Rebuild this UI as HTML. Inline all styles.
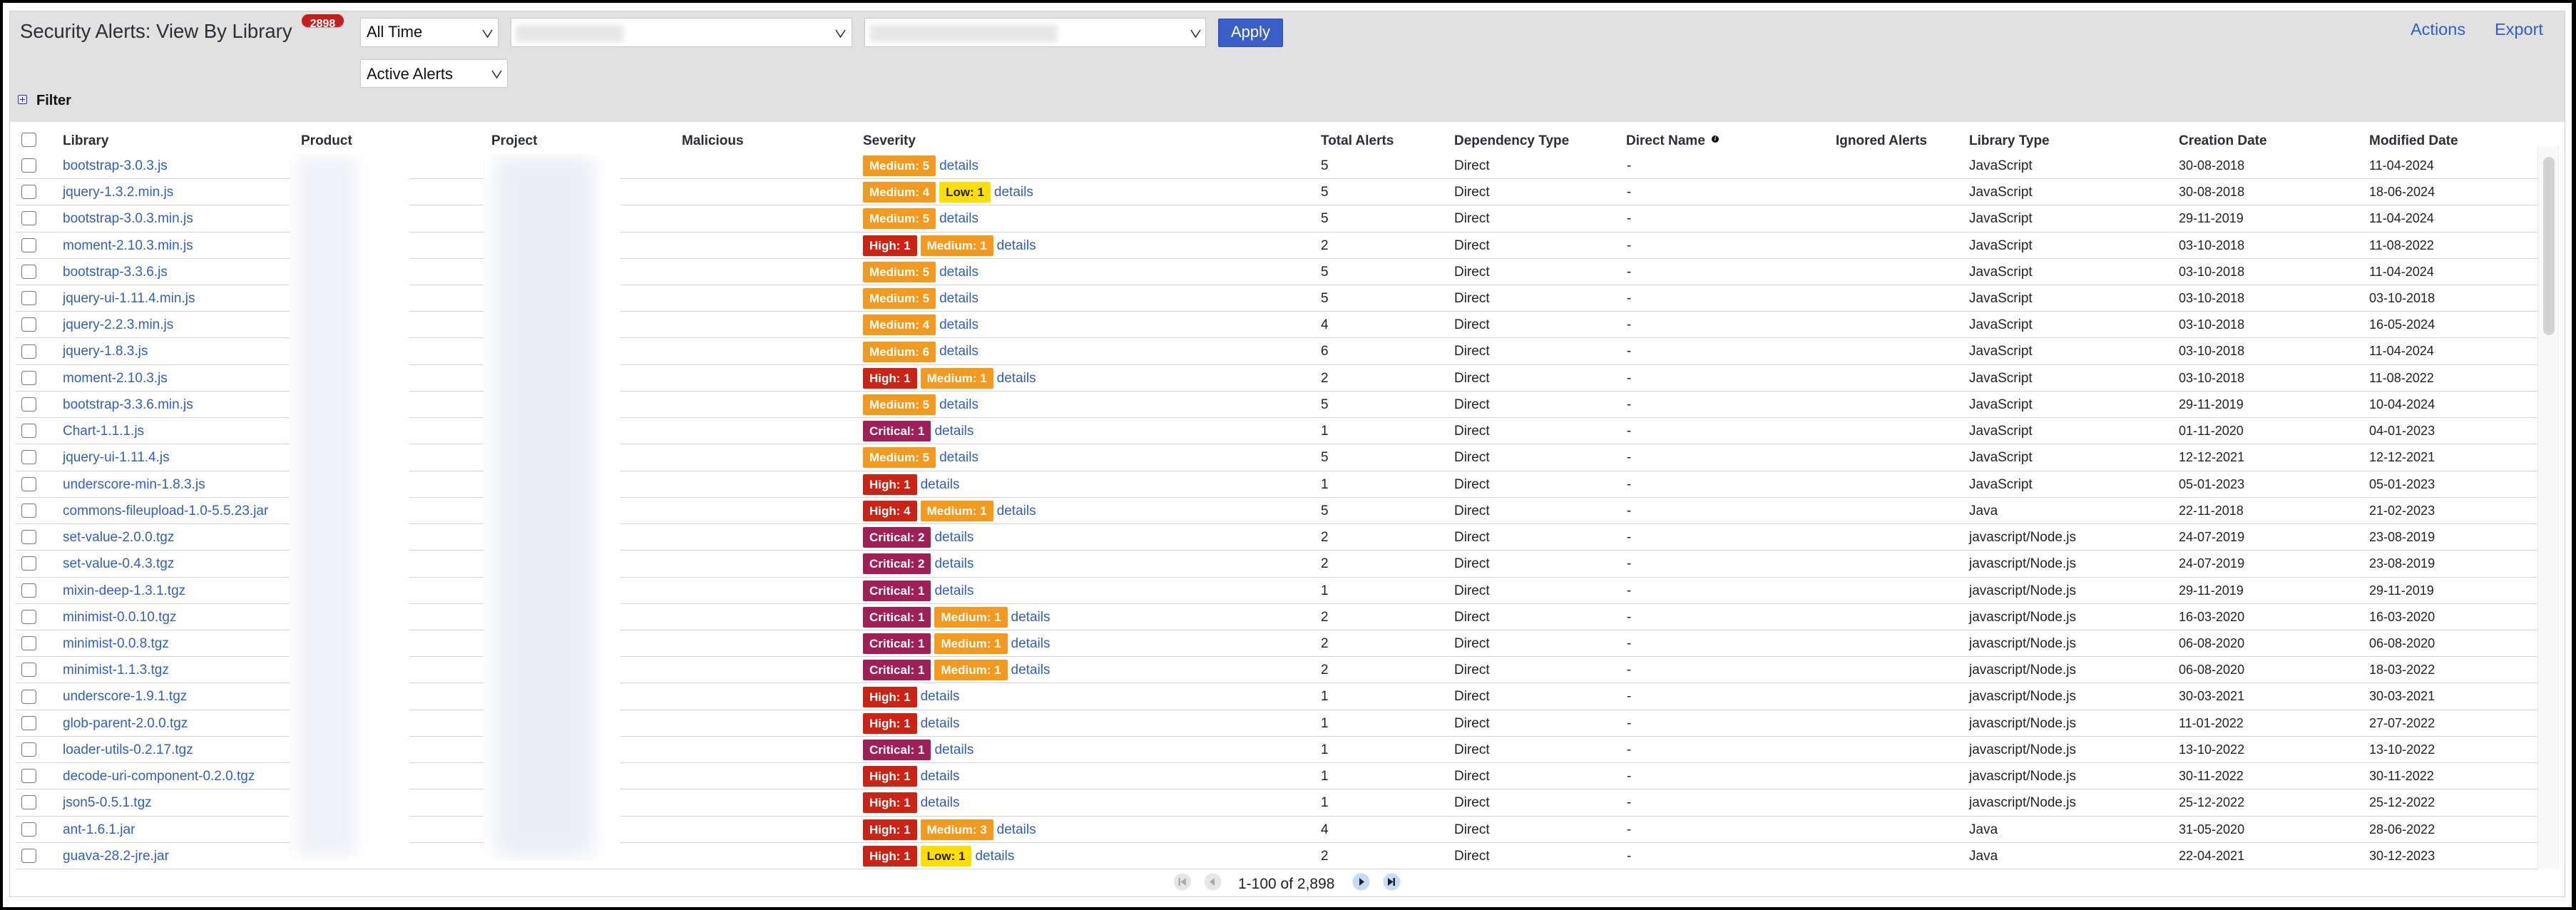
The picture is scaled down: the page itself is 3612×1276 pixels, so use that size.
<!DOCTYPE html>
<html>
<head>
<meta charset="utf-8">
<style>
*{margin:0;padding:0;box-sizing:border-box}
html,body{width:3612px;height:1276px;overflow:hidden;background:#000}
body{font-family:"Liberation Sans",Arial,sans-serif;color:#222}
#pg{position:absolute;left:0;top:0;width:3612px;height:1276px;background:#000}
#wh{position:absolute;left:4px;top:4px;width:3602px;height:1268px;background:#fff}
#box{position:absolute;left:13px;top:15px;width:3584px;height:1243px;border:1px solid #cfcfcf;background:#fff}
#hdr{position:absolute;left:14px;top:16px;width:3582px;height:155px;background:#e1e1e1}
.a{position:absolute;white-space:nowrap}
.sel{position:absolute;background:#fff;border:1px solid #c9c9c9}
.blurph{position:absolute;background:#e6e6e6;filter:blur(4px)}
.hl{position:absolute;top:183px;line-height:30px;font-size:19px;font-weight:bold;color:#2b2e35;white-space:nowrap}
.cb{position:absolute;width:21px;height:20px;border:1.5px solid #777;border-radius:4px;background:#fff}
.r{position:absolute;left:22px;width:3536px;height:37.23px;border-bottom:1px solid #d3d3d3}
.r .cb{left:8px;top:8.2px}
.r .l,.r .t,.r .p,.r .n,.r .y,.r .cd,.r .md{position:absolute;top:0;line-height:37px;font-size:19px;white-space:nowrap}
.r .l{left:66px;color:#2f5ec6}
.r .t{left:1830px}
.r .p{left:2017px}
.r .n{left:2259px}
.r .y{left:2739px}
.r .cd{left:3033px;font-size:18px}
.r .md{left:3300px;font-size:18px}
.r .s{position:absolute;left:1188px;top:0;display:flex;gap:5px;white-space:nowrap}
.b{margin-top:4.2px;height:29px;line-height:29px;padding:0 9px;border-radius:2px;font-size:17px;font-weight:bold;color:#fff}
.M{background:#f39a1e}
.H{background:#cc2314}
.C{background:#a01f57}
.L{background:#ffde00;color:#222}
.d{line-height:37px;font-size:19px;color:#2f5ec6}
.wb{position:absolute;top:216px;height:991px;background:#fff;overflow:hidden}
.core{position:absolute;filter:blur(12px)}
</style>
</head>
<body>
<div id="pg">
<div id="wh"></div>
<div id="box"></div>
<div id="hdr"></div>

<!-- title -->
<div class="a" style="left:28px;top:23.5px;line-height:40px;font-size:27.5px;color:#2c2f36">Security Alerts: View By Library</div>
<div class="a" style="left:423px;top:20px;width:59px;height:18px;border-radius:9px;background:#c4201a;box-shadow:0 1px 1px rgba(0,0,0,0.25)"></div>
<div class="a" style="left:423px;top:22px;width:59px;text-align:center;line-height:24px;font-size:16px;font-weight:bold;color:#fff">2898</div>

<!-- selects -->
<div class="sel" style="left:505px;top:25px;width:194px;height:41px"></div>
<div class="a" style="left:514px;top:30.4px;line-height:30px;font-size:22px;color:#111">All Time</div>
<div class="sel" style="left:716px;top:25px;width:479px;height:41px"></div>
<div class="blurph" style="left:723px;top:35px;width:151px;height:24px"></div>
<div class="sel" style="left:1212px;top:25px;width:479px;height:41px"></div>
<div class="blurph" style="left:1220px;top:35px;width:262px;height:24px"></div>
<div class="sel" style="left:505px;top:83px;width:207px;height:40px"></div>
<div class="a" style="left:514px;top:89.4px;line-height:30px;font-size:22px;color:#111">Active Alerts</div>
<svg class="a" style="left:0;top:0" width="1800" height="130">
<polyline points="677,42 683.5,52 690,42" fill="none" stroke="#333" stroke-width="1.6"/>
<polyline points="1172,42 1178.5,52 1185,42" fill="none" stroke="#333" stroke-width="1.6"/>
<polyline points="1670,42 1676.5,52 1683,42" fill="none" stroke="#333" stroke-width="1.6"/>
<polyline points="690,99 696.5,109 703,99" fill="none" stroke="#333" stroke-width="1.6"/>
</svg>
<div class="a" style="left:1708px;top:26px;width:91px;height:40px;background:#3a5ec7;border:1px solid #2d4fae;border-radius:2px"></div>
<div class="a" style="left:1708px;top:30.4px;width:91px;text-align:center;line-height:30px;font-size:22px;color:#fff">Apply</div>

<!-- actions -->
<div class="a" style="left:3380px;top:26px;line-height:30px;font-size:23.5px;color:#2f5ec6">Actions</div>
<div class="a" style="left:3498px;top:26px;line-height:30px;font-size:23.5px;color:#2f5ec6">Export</div>

<!-- filter -->
<div class="a" style="left:25px;top:133px;width:13px;height:13px;border:1.5px solid #3438a0;background:#e4e6f8;border-radius:2px"></div>
<div class="a" style="left:28px;top:138.5px;width:7px;height:1.6px;background:#2a2e90"></div>
<div class="a" style="left:30.7px;top:135.8px;width:1.6px;height:7px;background:#2a2e90"></div>
<div class="a" style="left:51px;top:126px;line-height:30px;font-size:20px;font-weight:bold;color:#111">Filter</div>

<!-- header row -->
<div class="cb" style="left:30px;top:186px"></div>
<div class="hl" style="left:88px">Library</div>
<div class="hl" style="left:422px">Product</div>
<div class="hl" style="left:689px">Project</div>
<div class="hl" style="left:956px">Malicious</div>
<div class="hl" style="left:1210px">Severity</div>
<div class="hl" style="left:1852px">Total Alerts</div>
<div class="hl" style="left:2039px">Dependency Type</div>
<div class="hl" style="left:2280px">Direct Name</div>
<div class="a" style="left:2400px;top:190px;width:10px;height:10px;border-radius:50%;background:#111"></div>
<div class="a" style="left:2400px;top:190px;width:10px;text-align:center;line-height:10px;font-size:8px;font-weight:bold;color:#fff;font-style:italic">i</div>
<div class="hl" style="left:2574px">Ignored Alerts</div>
<div class="hl" style="left:2761px">Library Type</div>
<div class="hl" style="left:3055px">Creation Date</div>
<div class="hl" style="left:3322px">Modified Date</div>

<!-- rows -->
<div class="r" style="top:213.8px"><div class="cb"></div><div class="l">bootstrap-3.0.3.js</div><div class="s"><span class="b M">Medium: 5</span><span class="d">details</span></div><div class="t">5</div><div class="p">Direct</div><div class="n">-</div><div class="y">JavaScript</div><div class="cd">30-08-2018</div><div class="md">11-04-2024</div></div>
<div class="r" style="top:251.0px"><div class="cb"></div><div class="l">jquery-1.3.2.min.js</div><div class="s"><span class="b M">Medium: 4</span><span class="b L">Low: 1</span><span class="d">details</span></div><div class="t">5</div><div class="p">Direct</div><div class="n">-</div><div class="y">JavaScript</div><div class="cd">30-08-2018</div><div class="md">18-06-2024</div></div>
<div class="r" style="top:288.3px"><div class="cb"></div><div class="l">bootstrap-3.0.3.min.js</div><div class="s"><span class="b M">Medium: 5</span><span class="d">details</span></div><div class="t">5</div><div class="p">Direct</div><div class="n">-</div><div class="y">JavaScript</div><div class="cd">29-11-2019</div><div class="md">11-04-2024</div></div>
<div class="r" style="top:325.5px"><div class="cb"></div><div class="l">moment-2.10.3.min.js</div><div class="s"><span class="b H">High: 1</span><span class="b M">Medium: 1</span><span class="d">details</span></div><div class="t">2</div><div class="p">Direct</div><div class="n">-</div><div class="y">JavaScript</div><div class="cd">03-10-2018</div><div class="md">11-08-2022</div></div>
<div class="r" style="top:362.7px"><div class="cb"></div><div class="l">bootstrap-3.3.6.js</div><div class="s"><span class="b M">Medium: 5</span><span class="d">details</span></div><div class="t">5</div><div class="p">Direct</div><div class="n">-</div><div class="y">JavaScript</div><div class="cd">03-10-2018</div><div class="md">11-04-2024</div></div>
<div class="r" style="top:400.0px"><div class="cb"></div><div class="l">jquery-ui-1.11.4.min.js</div><div class="s"><span class="b M">Medium: 5</span><span class="d">details</span></div><div class="t">5</div><div class="p">Direct</div><div class="n">-</div><div class="y">JavaScript</div><div class="cd">03-10-2018</div><div class="md">03-10-2018</div></div>
<div class="r" style="top:437.2px"><div class="cb"></div><div class="l">jquery-2.2.3.min.js</div><div class="s"><span class="b M">Medium: 4</span><span class="d">details</span></div><div class="t">4</div><div class="p">Direct</div><div class="n">-</div><div class="y">JavaScript</div><div class="cd">03-10-2018</div><div class="md">16-05-2024</div></div>
<div class="r" style="top:474.4px"><div class="cb"></div><div class="l">jquery-1.8.3.js</div><div class="s"><span class="b M">Medium: 6</span><span class="d">details</span></div><div class="t">6</div><div class="p">Direct</div><div class="n">-</div><div class="y">JavaScript</div><div class="cd">03-10-2018</div><div class="md">11-04-2024</div></div>
<div class="r" style="top:511.6px"><div class="cb"></div><div class="l">moment-2.10.3.js</div><div class="s"><span class="b H">High: 1</span><span class="b M">Medium: 1</span><span class="d">details</span></div><div class="t">2</div><div class="p">Direct</div><div class="n">-</div><div class="y">JavaScript</div><div class="cd">03-10-2018</div><div class="md">11-08-2022</div></div>
<div class="r" style="top:548.9px"><div class="cb"></div><div class="l">bootstrap-3.3.6.min.js</div><div class="s"><span class="b M">Medium: 5</span><span class="d">details</span></div><div class="t">5</div><div class="p">Direct</div><div class="n">-</div><div class="y">JavaScript</div><div class="cd">29-11-2019</div><div class="md">10-04-2024</div></div>
<div class="r" style="top:586.1px"><div class="cb"></div><div class="l">Chart-1.1.1.js</div><div class="s"><span class="b C">Critical: 1</span><span class="d">details</span></div><div class="t">1</div><div class="p">Direct</div><div class="n">-</div><div class="y">JavaScript</div><div class="cd">01-11-2020</div><div class="md">04-01-2023</div></div>
<div class="r" style="top:623.3px"><div class="cb"></div><div class="l">jquery-ui-1.11.4.js</div><div class="s"><span class="b M">Medium: 5</span><span class="d">details</span></div><div class="t">5</div><div class="p">Direct</div><div class="n">-</div><div class="y">JavaScript</div><div class="cd">12-12-2021</div><div class="md">12-12-2021</div></div>
<div class="r" style="top:660.6px"><div class="cb"></div><div class="l">underscore-min-1.8.3.js</div><div class="s"><span class="b H">High: 1</span><span class="d">details</span></div><div class="t">1</div><div class="p">Direct</div><div class="n">-</div><div class="y">JavaScript</div><div class="cd">05-01-2023</div><div class="md">05-01-2023</div></div>
<div class="r" style="top:697.8px"><div class="cb"></div><div class="l">commons-fileupload-1.0-5.5.23.jar</div><div class="s"><span class="b H">High: 4</span><span class="b M">Medium: 1</span><span class="d">details</span></div><div class="t">5</div><div class="p">Direct</div><div class="n">-</div><div class="y">Java</div><div class="cd">22-11-2018</div><div class="md">21-02-2023</div></div>
<div class="r" style="top:735.0px"><div class="cb"></div><div class="l">set-value-2.0.0.tgz</div><div class="s"><span class="b C">Critical: 2</span><span class="d">details</span></div><div class="t">2</div><div class="p">Direct</div><div class="n">-</div><div class="y">javascript/Node.js</div><div class="cd">24-07-2019</div><div class="md">23-08-2019</div></div>
<div class="r" style="top:772.3px"><div class="cb"></div><div class="l">set-value-0.4.3.tgz</div><div class="s"><span class="b C">Critical: 2</span><span class="d">details</span></div><div class="t">2</div><div class="p">Direct</div><div class="n">-</div><div class="y">javascript/Node.js</div><div class="cd">24-07-2019</div><div class="md">23-08-2019</div></div>
<div class="r" style="top:809.5px"><div class="cb"></div><div class="l">mixin-deep-1.3.1.tgz</div><div class="s"><span class="b C">Critical: 1</span><span class="d">details</span></div><div class="t">1</div><div class="p">Direct</div><div class="n">-</div><div class="y">javascript/Node.js</div><div class="cd">29-11-2019</div><div class="md">29-11-2019</div></div>
<div class="r" style="top:846.7px"><div class="cb"></div><div class="l">minimist-0.0.10.tgz</div><div class="s"><span class="b C">Critical: 1</span><span class="b M">Medium: 1</span><span class="d">details</span></div><div class="t">2</div><div class="p">Direct</div><div class="n">-</div><div class="y">javascript/Node.js</div><div class="cd">16-03-2020</div><div class="md">16-03-2020</div></div>
<div class="r" style="top:883.9px"><div class="cb"></div><div class="l">minimist-0.0.8.tgz</div><div class="s"><span class="b C">Critical: 1</span><span class="b M">Medium: 1</span><span class="d">details</span></div><div class="t">2</div><div class="p">Direct</div><div class="n">-</div><div class="y">javascript/Node.js</div><div class="cd">06-08-2020</div><div class="md">06-08-2020</div></div>
<div class="r" style="top:921.2px"><div class="cb"></div><div class="l">minimist-1.1.3.tgz</div><div class="s"><span class="b C">Critical: 1</span><span class="b M">Medium: 1</span><span class="d">details</span></div><div class="t">2</div><div class="p">Direct</div><div class="n">-</div><div class="y">javascript/Node.js</div><div class="cd">06-08-2020</div><div class="md">18-03-2022</div></div>
<div class="r" style="top:958.4px"><div class="cb"></div><div class="l">underscore-1.9.1.tgz</div><div class="s"><span class="b H">High: 1</span><span class="d">details</span></div><div class="t">1</div><div class="p">Direct</div><div class="n">-</div><div class="y">javascript/Node.js</div><div class="cd">30-03-2021</div><div class="md">30-03-2021</div></div>
<div class="r" style="top:995.6px"><div class="cb"></div><div class="l">glob-parent-2.0.0.tgz</div><div class="s"><span class="b H">High: 1</span><span class="d">details</span></div><div class="t">1</div><div class="p">Direct</div><div class="n">-</div><div class="y">javascript/Node.js</div><div class="cd">11-01-2022</div><div class="md">27-07-2022</div></div>
<div class="r" style="top:1032.9px"><div class="cb"></div><div class="l">loader-utils-0.2.17.tgz</div><div class="s"><span class="b C">Critical: 1</span><span class="d">details</span></div><div class="t">1</div><div class="p">Direct</div><div class="n">-</div><div class="y">javascript/Node.js</div><div class="cd">13-10-2022</div><div class="md">13-10-2022</div></div>
<div class="r" style="top:1070.1px"><div class="cb"></div><div class="l">decode-uri-component-0.2.0.tgz</div><div class="s"><span class="b H">High: 1</span><span class="d">details</span></div><div class="t">1</div><div class="p">Direct</div><div class="n">-</div><div class="y">javascript/Node.js</div><div class="cd">30-11-2022</div><div class="md">30-11-2022</div></div>
<div class="r" style="top:1107.3px"><div class="cb"></div><div class="l">json5-0.5.1.tgz</div><div class="s"><span class="b H">High: 1</span><span class="d">details</span></div><div class="t">1</div><div class="p">Direct</div><div class="n">-</div><div class="y">javascript/Node.js</div><div class="cd">25-12-2022</div><div class="md">25-12-2022</div></div>
<div class="r" style="top:1144.6px"><div class="cb"></div><div class="l">ant-1.6.1.jar</div><div class="s"><span class="b H">High: 1</span><span class="b M">Medium: 3</span><span class="d">details</span></div><div class="t">4</div><div class="p">Direct</div><div class="n">-</div><div class="y">Java</div><div class="cd">31-05-2020</div><div class="md">28-06-2022</div></div>
<div class="r" style="top:1181.8px"><div class="cb"></div><div class="l">guava-28.2-jre.jar</div><div class="s"><span class="b H">High: 1</span><span class="b L">Low: 1</span><span class="d">details</span></div><div class="t">2</div><div class="p">Direct</div><div class="n">-</div><div class="y">Java</div><div class="cd">22-04-2021</div><div class="md">30-12-2023</div></div>

<!-- blurred columns -->
<div class="wb" style="left:406px;width:168px">
  <div class="core" style="left:10px;top:4px;width:84px;height:980px;background:#f0f1f8"></div>
</div>
<div class="wb" style="left:678px;width:192px">
  <div class="core" style="left:16px;top:4px;width:138px;height:980px;background:#ebedf5;filter:blur(14px)"></div>
</div>

<!-- scrollbar -->
<div class="a" style="left:3558px;top:205px;width:30px;height:1013px;background:#f8f8f8;border-left:1px solid #ececec;border-right:1px solid #ececec"></div>
<div class="a" style="left:3566px;top:220px;width:16px;height:250px;background:#d3d3d3;border-radius:8px"></div>

<!-- pagination -->
<svg class="a" style="left:1630px;top:1220px" width="350" height="34">
  <circle cx="28" cy="16.5" r="12" fill="#e6e6e6"/>
  <rect x="22.5" y="11" width="2.5" height="11" fill="#a9a9a9"/>
  <polygon points="33,11 33,22 25.5,16.5" fill="#a9a9a9"/>
  <circle cx="70.5" cy="16.5" r="12" fill="#e6e6e6"/>
  <polygon points="73,11 73,22 66,16.5" fill="#a9a9a9"/>
  <circle cx="278.5" cy="16.5" r="12" fill="#c6dbf7"/>
  <polygon points="276,11 276,22 283,16.5" fill="#222"/>
  <circle cx="321.5" cy="16.5" r="12" fill="#c6dbf7"/>
  <polygon points="316,11 316,22 323.5,16.5" fill="#222"/>
  <rect x="323.5" y="11" width="2.5" height="11" fill="#222"/>
</svg>
<div class="a" style="left:1736px;top:1224.7px;line-height:30px;font-size:21px;color:#222">1-100 of 2,898</div>

</div>
</body>
</html>
